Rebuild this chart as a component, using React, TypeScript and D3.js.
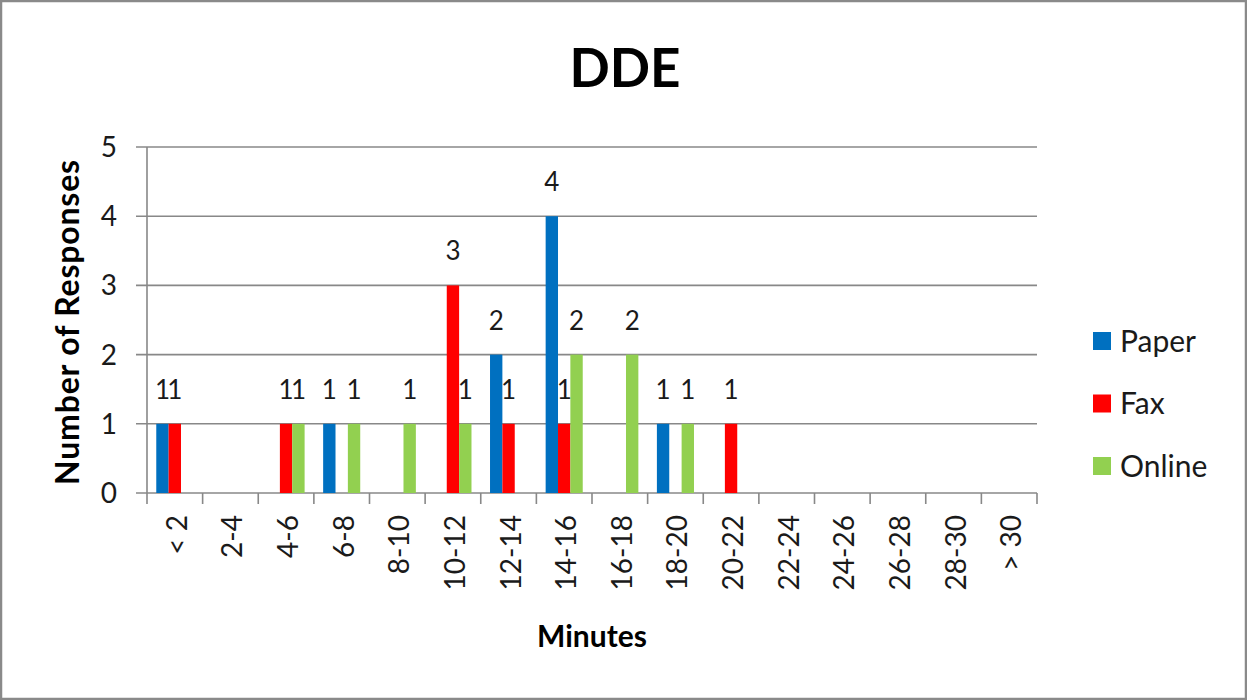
import React from "react";
import * as d3 from "d3";

const categories = ["< 2", "2-4", "4-6", "6-8", "8-10", "10-12", "12-14", "14-16", "16-18", "18-20", "20-22", "22-24", "24-26", "26-28", "28-30", "> 30"];
const seriesNames = ["Paper", "Fax", "Online"];
const seriesColors = ["#0070C0", "#FF0000", "#92D050"];
const paper: (number | null)[] = [1, null, null, 1, null, null, 2, 4, null, 1, null, null, null, null, null, null];
const fax: (number | null)[] = [1, null, 1, null, null, 3, 1, 1, null, null, 1, null, null, null, null, null];
const online: (number | null)[] = [null, null, 1, 1, 1, 1, null, 2, 2, 1, null, null, null, null, null, null];
const yTicks = [0, 1, 2, 3, 4, 5];
const title = "DDE";
const xTitle = "Minutes";
const yTitle = "Number of Responses";

const W = 1247;
const H = 700;
const FONT = "Lato, 'Open Sans', sans-serif";

export default function App() {
  const seriesValues = [paper, fax, online];
  const left = 147;
  const right = 1037;
  const top = 147;
  const bottom = 493;
  const x = d3.scaleBand<string>().domain(categories).range([left, right]).paddingInner(0).paddingOuter(0);
  const xs = d3.scaleBand<string>().domain(seriesNames).range([0, x.bandwidth()]).paddingInner(0).paddingOuter(0.75);
  const y = d3.scaleLinear().domain([0, 5]).range([bottom, top]);
  const gridColor = "#888888";

  return (
    <svg width={W} height={H} style={{ position: "absolute", left: 0, top: 0, display: "block" }}>
      <rect x={1} y={1} width={W - 2} height={H - 2} fill="#fff" stroke="#8a8a8a" strokeWidth={2.5} />
      <text x={625} y={87} textAnchor="middle" fontFamily={FONT} fontWeight="bold" fontSize={53} fill="#000">{title}</text>
      {/* gridlines */}
      {yTicks.map((t) => (
        <line key={"g" + t} x1={left - 11} x2={right} y1={y(t)} y2={y(t)} stroke={gridColor} strokeWidth={1.6} />
      ))}
      {/* y axis line */}
      <line x1={left} x2={left} y1={top} y2={bottom} stroke={gridColor} strokeWidth={1.6} />
      {/* x ticks */}
      {categories.map((c, i) => (
        <line key={"xt" + i} x1={x(c)!} x2={x(c)!} y1={bottom} y2={bottom + 11} stroke={gridColor} strokeWidth={1.6} />
      ))}
      <line x1={right} x2={right} y1={bottom} y2={bottom + 11} stroke={gridColor} strokeWidth={1.6} />
      {/* y tick labels */}
      {yTicks.map((t) => (
        <text key={"yl" + t} x={117} y={y(t)} dy="0.36em" textAnchor="end" fontFamily={FONT} fontSize={28} fill="#1a1a1a">{t}</text>
      ))}
      {/* bars */}
      {seriesValues.map((vals, si) =>
        vals.map((v, ci) => {
          if (v == null) return null;
          const bx = x(categories[ci])! + xs(seriesNames[si])!;
          return (
            <rect key={`b${si}-${ci}`} x={bx} y={y(v)} width={xs.bandwidth()} height={y(0) - y(v)} fill={seriesColors[si]} />
          );
        })
      )}
      {/* value labels */}
      {seriesValues.map((vals, si) =>
        vals.map((v, ci) => {
          if (v == null) return null;
          const bx = x(categories[ci])! + xs(seriesNames[si])! + xs.bandwidth() / 2;
          return (
            <text key={`l${si}-${ci}`} x={bx} y={y(v) - 25} textAnchor="middle" fontFamily={FONT} fontSize={26} fill="#1a1a1a">{v}</text>
          );
        })
      )}
      {/* x tick labels */}
      {categories.map((c, i) => {
        const cx = x(c)! + x.bandwidth() / 2 + 12;
        return (
          <text key={"xl" + i} transform={`translate(${cx},515) rotate(-90)`} textAnchor="end" fontFamily={FONT} fontSize={28} fill="#1a1a1a">{c}</text>
        );
      })}
      {/* axis titles */}
      <text x={(left + right) / 2} y={647} textAnchor="middle" fontFamily={FONT} fontWeight="bold" fontSize={30} fill="#000">{xTitle}</text>
      <text transform={`translate(79,${(top + bottom) / 2 + 2}) rotate(-90)`} textAnchor="middle" fontFamily={FONT} fontWeight="bold" fontSize={32} letterSpacing={0.8} fill="#000">{yTitle}</text>
      {/* legend */}
      {seriesNames.map((s, i) => {
        const ly = 341 + i * 62.5;
        return (
          <g key={"lg" + i}>
            <rect x={1093} y={ly - 9} width={18} height={18} fill={seriesColors[i]} />
            <text x={1120} y={ly} dy="0.36em" fontFamily={FONT} fontSize={30} fill="#1a1a1a">{s}</text>
          </g>
        );
      })}
    </svg>
  );
}
